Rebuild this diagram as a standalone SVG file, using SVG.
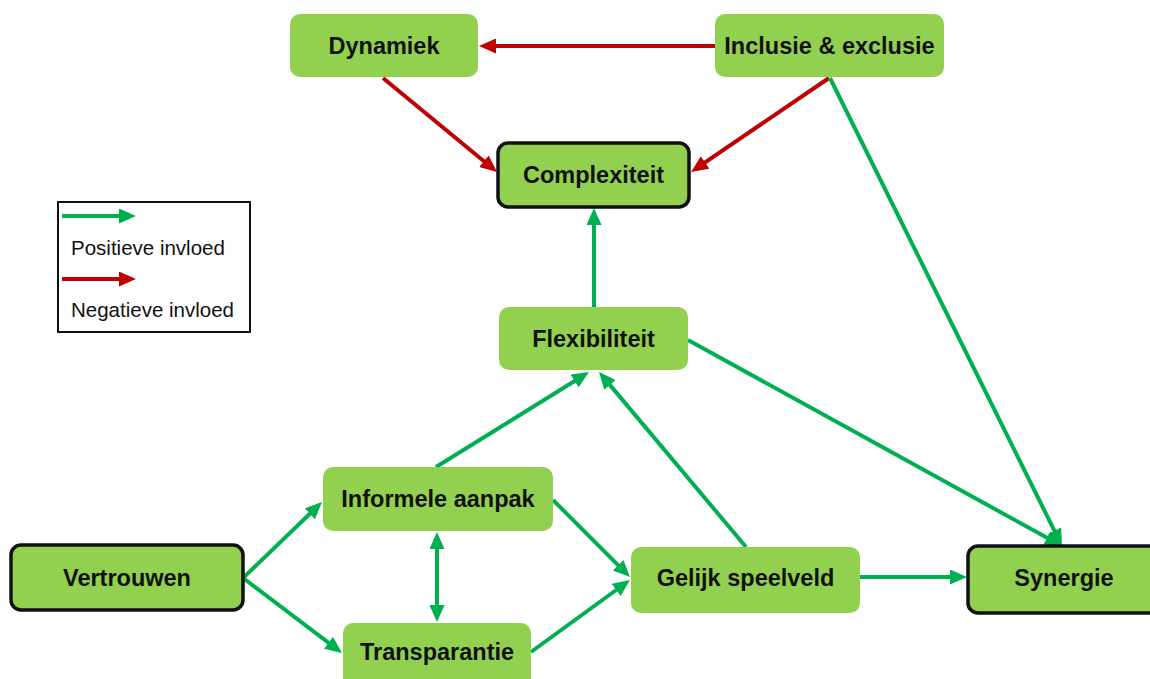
<svg xmlns="http://www.w3.org/2000/svg" width="1150" height="679" viewBox="0 0 1150 679">
<style>
.box{fill:#92D050;}
.key{fill:#92D050;stroke:#111;stroke-width:3.5;}
.lbl{font-family:"Liberation Sans",Arial,sans-serif;font-weight:bold;font-size:23.5px;fill:#111;text-anchor:middle;}
.leg{font-family:"Liberation Sans",Arial,sans-serif;font-size:20.5px;fill:#111;}
.g{stroke:#00B050;stroke-width:4;fill:none;marker-end:url(#ag);}
.r{stroke:#C00000;stroke-width:4;fill:none;marker-end:url(#ar);}
</style>
<defs>
<marker id="ag" markerUnits="userSpaceOnUse" markerWidth="17" markerHeight="15" refX="11" refY="7.5" orient="auto-start-reverse"><path d="M0,0 L17,7.5 L0,15 z" fill="#00B050"/></marker>
<marker id="ar" markerUnits="userSpaceOnUse" markerWidth="17" markerHeight="15" refX="11" refY="7.5" orient="auto"><path d="M0,0 L17,7.5 L0,15 z" fill="#C00000"/></marker>
</defs>
<rect width="1150" height="679" fill="#fff"/>
<g id="legend">
<rect x="58" y="202" width="192" height="130" fill="#fff" stroke="#111" stroke-width="2"/>
<line class="g" x1="62" y1="216" x2="130" y2="216"/>
<text class="leg" x="71" y="255">Positieve invloed</text>
<line class="r" x1="62" y1="279" x2="130" y2="279"/>
<text class="leg" x="71" y="317">Negatieve invloed</text>
</g>
<g id="connectors">
<line class="r" x1="715" y1="46" x2="485" y2="46"/>
<line class="r" x1="383" y1="78" x2="492.4" y2="168.2"/>
<line class="r" x1="829" y1="78" x2="696" y2="168.6"/>
<line class="g" x1="830" y1="78" x2="1059.3" y2="540.6"/>
<line class="g" x1="594" y1="307" x2="594" y2="214"/>
<line class="g" x1="688" y1="340" x2="1056.7" y2="543.1"/>
<line class="g" x1="436" y1="467" x2="583.9" y2="375.2"/>
<line class="g" x1="746" y1="547" x2="602.9" y2="376.6"/>
<line class="g" x1="243" y1="578" x2="317.7" y2="506.2"/>
<line class="g" x1="243" y1="578" x2="337.2" y2="649.4"/>
<line class="g" x1="437" y1="538" x2="437" y2="616" marker-start="url(#ag)"/>
<line class="g" x1="553" y1="500" x2="625.8" y2="572.8"/>
<line class="g" x1="531" y1="652" x2="625.1" y2="583.5"/>
<line class="g" x1="860" y1="577" x2="961" y2="577"/>
</g>
<g id="dynamiek"><rect class="box" x="290" y="14" width="188" height="63" rx="10"/><text class="lbl" x="384" y="54">Dynamiek</text></g>
<g id="inclusie"><rect class="box" x="715" y="14" width="229" height="63" rx="10"/><text class="lbl" x="829.5" y="54">Inclusie &amp; exclusie</text></g>
<g id="complexiteit"><rect class="key" x="498" y="143" width="191" height="64" rx="10"/><text class="lbl" x="593.5" y="183">Complexiteit</text></g>
<g id="flexibiliteit"><rect class="box" x="499" y="307" width="189" height="63" rx="10"/><text class="lbl" x="593.5" y="347">Flexibiliteit</text></g>
<g id="informele"><rect class="box" x="323" y="467" width="230" height="64" rx="10"/><text class="lbl" x="438" y="507">Informele aanpak</text></g>
<g id="transparantie"><rect class="box" x="343" y="623" width="188" height="66" rx="10"/><text class="lbl" x="437" y="660">Transparantie</text></g>
<g id="vertrouwen"><rect class="key" x="11" y="545" width="232" height="65" rx="10"/><text class="lbl" x="127" y="586">Vertrouwen</text></g>
<g id="gelijk"><rect class="box" x="631" y="547" width="229" height="66" rx="10"/><text class="lbl" x="745.5" y="586">Gelijk speelveld</text></g>
<g id="synergie"><rect class="key" x="968" y="546" width="195" height="67" rx="10"/><text class="lbl" x="1064" y="586">Synergie</text></g>
</svg>
